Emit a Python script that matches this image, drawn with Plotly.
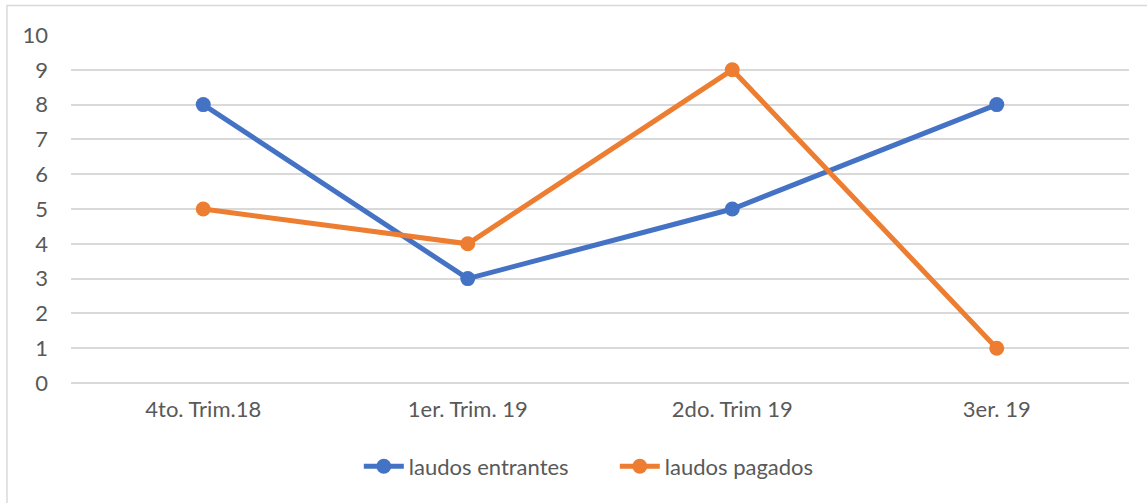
import plotly.graph_objects as go

# Quarterly report counts
quarters = ["4to. Trim.18", "1er. Trim. 19", "2do. Trim 19", "3er. 19"]
laudos_entrantes = [8, 3, 5, 8]
laudos_pagados = [5, 4, 9, 1]

BLUE = "#4472C4"
ORANGE = "#ED7D31"
TEXT = "#595959"
GRID = "#D9D9D9"
FONT = "Lato, Liberation Sans, sans-serif"

fig = go.Figure()
fig.add_trace(go.Scatter(
    x=quarters, y=laudos_entrantes, name="laudos entrantes",
    mode="lines+markers",
    line=dict(color=BLUE, width=5),
    marker=dict(color=BLUE, size=15),
))
fig.add_trace(go.Scatter(
    x=quarters, y=laudos_pagados, name="laudos pagados",
    mode="lines+markers",
    line=dict(color=ORANGE, width=5),
    marker=dict(color=ORANGE, size=15),
))

fig.update_layout(
    width=1147, height=503,
    margin=dict(l=71, r=18, t=35, b=120),
    paper_bgcolor="white", plot_bgcolor="white",
    font=dict(family=FONT, size=22, color=TEXT),
    showlegend=True,
    legend=dict(
        orientation="h", x=0.514, xanchor="center", y=-0.24, yanchor="middle",
        font=dict(family=FONT, size=22, color=TEXT),
        itemwidth=40, traceorder="normal", entrywidth=201,
    ),
    xaxis=dict(
        type="category", range=[-0.5, 3.5],
        showgrid=False, showline=False, zeroline=False,
        ticks="", ticklabelstandoff=11,
    ),
    yaxis=dict(
        range=[0, 10], dtick=1, tick0=0,
        showgrid=True, gridcolor=GRID, gridwidth=1.5,
        zeroline=True, zerolinecolor=GRID, zerolinewidth=1.5,
        showline=False, ticks="", ticklabelstandoff=22,
        fixedrange=True,
    ),
    shapes=[dict(
        type="rect", xref="paper", yref="paper",
        x0=-0.0605, x1=1.2, y0=-0.6, y1=1.085,
        line=dict(color=GRID, width=1.5), fillcolor="rgba(0,0,0,0)",
        layer="below",
    )],
)

fig.write_html("out.html")
